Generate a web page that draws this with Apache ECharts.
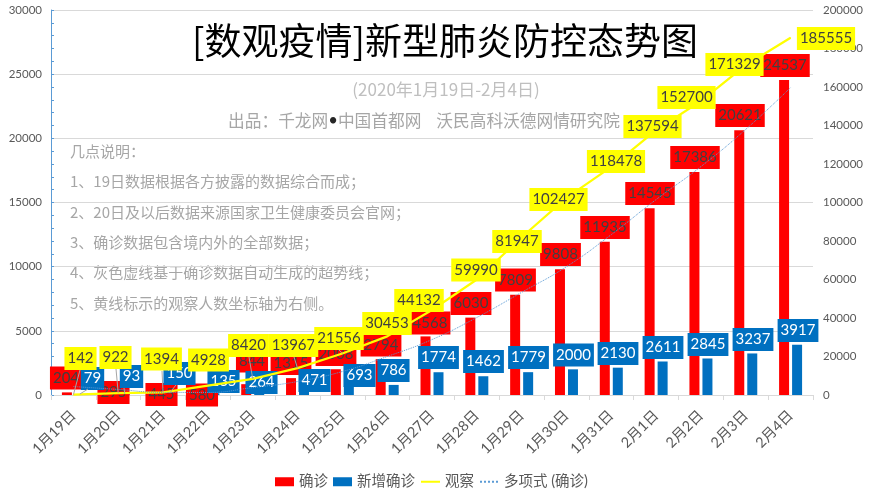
<!DOCTYPE html>
<html>
<head>
<meta charset="utf-8">
<title>新型肺炎防控态势图</title>
<script src="https://cdn.jsdelivr.net/npm/echarts@6/dist/echarts.min.js"></script>
<style>
html,body{margin:0;padding:0;background:#fff;}
#chart{width:876px;height:495px;}
</style>
</head>
<body>
<div id="chart"></div>
<script>
var days = ['1月19日','1月20日','1月21日','1月22日','1月23日','1月24日','1月25日','1月26日','1月27日','1月28日','1月29日','1月30日','1月31日','2月1日','2月2日','2月3日','2月4日'];
// 确诊
var confirmed = [204,295,445,580,844,1315,2008,2794,4568,6030,7809,9808,11935,14545,17386,20621,24537];
// 新增确诊
var newConfirmed = [79,93,150,135,264,471,693,786,1774,1462,1779,2000,2130,2611,2845,3237,3917];
// 观察 (right axis)
var observed = [142,922,1394,4928,8420,13967,21556,30453,44132,59990,81947,102427,118478,137594,152700,171329,185555];
// 多项式 (确诊)
var trend = [660,430,200,200,580,1050,1830,3000,4320,6040,8000,10000,12500,15230,17800,20700,23960];

var leftMax = 30000;
var rightMax = 200000;

// hand placed data labels, as in the original chart: centre of each box
var confirmedLabelX = [66,113.5,161.5,202,252,291,336,381,430,471,515.5,560.5,605,650,695,740,785];
var confirmedLabelY = [378,392.5,394.5,395,361,363.5,354.5,345,323,303.5,280,254.5,227.5,193.5,157.5,115.5,65.5];
var newLabelX = [92.5,131.5,179.5,223.5,261.5,314.5,359.5,393.5,438.5,483.5,528.5,573.5,618,663,708,753,798];
var newLabelY = [378.5,376.5,373.5,381.5,382.5,380.5,375.5,370.5,357.5,361.5,357.5,355,353.5,347.5,344.5,339.5,330.5];
var obsLabelX = [80.5,115.5,161.5,208.5,248.5,293.5,339,387,419,476,517,558.5,616,652.5,686.5,734.5,826];
var obsLabelY = [358.5,357.5,359,360,345.5,345.5,338.5,323.5,300.5,270,241.5,199.5,161.5,126.5,97.5,64.5,38.5];
// leader lines: data index, then where the line meets the label box
var newLeaders = [[0,88,389],[1,124,388],[2,176,385]];
var obsLeaders = [[0,80,370],[1,116,369],[2,162,371],[4,249,357],[5,294,357],[6,339,350]];

var titleText = '[数观疫情]新型肺炎防控态势图';
var subTitle = '(2020年1月19日-2月4日)';
var source = '出品：千龙网{b|•}中国首都网    沃民高科沃德网情研究院';
var notes = ['几点说明：','1、19日数据根据各方披露的数据综合而成；','2、20日及以后数据来源国家卫生健康委员会官网；','3、确诊数据包含境内外的全部数据；','4、灰色虚线基于确诊数据自动生成的超势线；','5、黄线标示的观察人数坐标轴为右侧。'];

var numFont = 'Lato, "Noto Sans CJK SC", sans-serif';
var cnFont = '"Noto Sans CJK SC", sans-serif';

function boxLabel(bg, color){
	return {
		show:true, position:'top', color:color, backgroundColor:bg, textBorderWidth:0, borderRadius:0,
		fontFamily:numFont, fontSize:15, lineHeight:15, padding:[4,3,4,3]
	};
}
function layoutFrom(xs, ys){
	return function(p){
		return {x:xs[p.dataIndex], y:ys[p.dataIndex], align:'center', verticalAlign:'middle'};
	};
}
function leaderLines(leaders, values){
	return {
		silent:true, symbol:'none', animation:false,
		label:{show:false},
		lineStyle:{color:'#a6a6a6', width:1, type:'solid'},
		data:leaders.map(function(d){
			return [{coord:[days[d[0]], values[d[0]]]}, {x:d[1], y:d[2]}];
		})
	};
}
function plain(v){ return String(v); }

var graphics = [
	{type:'text', style:{x:445, y:41, text:titleText, fill:'#000', font:'37px '+cnFont, align:'center', verticalAlign:'middle'}},
	{type:'text', style:{x:446, y:90, text:subTitle, fill:'#bfbfbf', font:'17px '+cnFont, align:'center', verticalAlign:'middle'}},
	{type:'text', style:{x:424, y:121, text:source, fill:'#a6a6a6', font:'16.7px '+cnFont, align:'center', verticalAlign:'middle', rich:{b:{fill:'#262626', font:'16.7px '+numFont}}}}
];
notes.forEach(function(line,i){
	graphics.push({type:'text', style:{x:70, y:151+i*30.4, text:line, fill:'#a6a6a6', font:'15px '+cnFont, verticalAlign:'middle'}});
});

var myChart = echarts.init(document.getElementById('chart'), null, {renderer:'canvas'});
myChart.setOption({
	animation:false,
	backgroundColor:'#fff',
	graphic:graphics,
	grid:{left:51, top:10, width:762, height:385},
	legend:{
		bottom:1, left:270, itemWidth:19, itemHeight:9, itemGap:5,
		textStyle:{color:'#595959', fontSize:14.5, fontFamily:numFont},
		data:[
			{name:'确诊', icon:'rect'},
			{name:'新增确诊', icon:'rect'},
			{name:'观察', itemStyle:{opacity:0}},
			{name:'多项式 (确诊)', itemStyle:{opacity:0}}
		]
	},
	xAxis:{
		type:'category', data:days,
		axisLine:{lineStyle:{color:'#d9d9d9'}},
		axisTick:{show:true, length:5, lineStyle:{color:'#d9d9d9'}},
		axisLabel:{interval:0, rotate:45, color:'#595959', fontSize:14.5, fontFamily:numFont, margin:18}
	},
	yAxis:[{
		type:'value', min:0, max:leftMax, interval:5000,
		axisLine:{show:true, lineStyle:{color:'#5b9bd5'}},
		axisTick:{show:true, inside:true, length:3, lineStyle:{color:'#5b9bd5'}},
		minorTick:{show:true, splitNumber:5, length:3, lineStyle:{color:'#5b9bd5'}},
		axisLabel:{color:'#595959', fontSize:11.5, fontFamily:numFont, margin:9, formatter:plain},
		splitLine:{show:true, lineStyle:{color:'#d9d9d9'}}
	},{
		type:'value', min:0, max:rightMax, interval:20000,
		axisLine:{show:false}, axisTick:{show:false},
		axisLabel:{color:'#595959', fontSize:11.5, fontFamily:numFont, margin:10, formatter:plain},
		splitLine:{show:false}
	}],
	series:[{
		name:'确诊', type:'bar', barWidth:10, barGap:'30%',
		itemStyle:{color:'#ff0000'},
		label:boxLabel('#ff0000','#404040'),
		labelLayout:layoutFrom(confirmedLabelX, confirmedLabelY),
		data:confirmed
	},{
		name:'新增确诊', type:'bar', barWidth:10,
		itemStyle:{color:'#0070c0'},
		label:boxLabel('#0070c0','#ffffff'),
		labelLayout:layoutFrom(newLabelX, newLabelY),
		markLine:leaderLines(newLeaders, newConfirmed),
		data:newConfirmed
	},{
		name:'观察', type:'line', yAxisIndex:1, symbol:'circle', symbolSize:1, showAllSymbol:true,
		itemStyle:{color:'#ffff00'},
		lineStyle:{color:'#ffff00', width:2.25},
		label:boxLabel('#ffff00','#404040'),
		labelLayout:layoutFrom(obsLabelX, obsLabelY),
		markLine:leaderLines(obsLeaders, observed),
		data:observed
	},{
		name:'多项式 (确诊)', type:'line', symbol:'none', smooth:true,
		itemStyle:{color:'#5b9bd5'},
		lineStyle:{color:'#5b9bd5', width:1, type:'dotted'},
		data:trend
	}]
});
</script>
</body>
</html>
